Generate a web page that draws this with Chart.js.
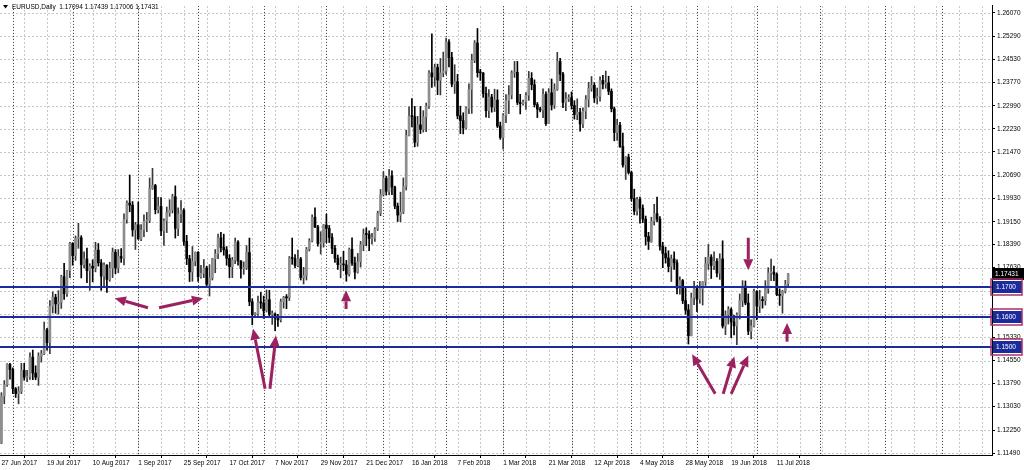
<!DOCTYPE html>
<html>
<head>
<meta charset="utf-8">
<script src="https://cdn.jsdelivr.net/npm/chart.js@4.4.1/dist/chart.umd.min.js"></script>
<style>
html,body{margin:0;padding:0;background:#fff;}
canvas{display:block;}
</style>
</head>
<body>
<canvas id="c" width="1024" height="470"></canvas>
<script>
// ---- calendar (daily bars) ----
const firstDay = '2017-06-27';
const slotCount = 348;                 // bars + empty right margin
const skipDays = ['2017-12-25', '2018-01-01'];
const sundayBars = ['2017-10-29', '2018-03-11', '2018-03-18'];
const symbolTitle = 'EURUSD,Daily';

// ---- OHLC series ----
const opens = [
  1.1182,1.1338,1.1375,1.1443,1.1426,1.1362,1.1346,1.1353,1.1423,1.1400,1.1401,1.1467,1.1414,1.1400,1.1469,1.1478,1.1557,1.1515,1.1635,1.1665,1.1643,1.1648,1.1733,1.1677,1.1753,
  1.1843,1.1803,1.1860,1.1862,1.1773,1.1792,1.1753,1.1768,1.1761,1.1821,1.1779,1.1735,1.1771,1.1724,1.1761,1.1814,1.1762,1.1800,1.1794,1.1923,1.1977,1.1970,1.1888,
  1.1905,1.1858,1.1888,1.1917,1.1919,1.2025,1.2035,1.1955,1.1966,1.1885,1.1918,1.1945,1.1954,1.1998,1.1893,1.1941,1.1953,1.1850,1.1793,1.1749,1.1784,
  1.1814,1.1733,1.1744,1.1762,1.1708,1.1729,1.1792,1.1809,1.1862,1.1830,1.1822,1.1794,1.1766,1.1788,1.1848,1.1785,1.1760,1.1762,1.1813,1.1650,1.1607,1.1611,1.1649,
  1.1646,1.1620,1.1657,1.1608,1.1609,1.1596,1.1590,1.1650,1.1665,1.1663,1.1794,1.1793,1.1770,1.1792,1.1730,1.1737,1.1824,1.1852,1.1930,1.1898,1.1843,1.1845,
  1.1904,1.1893,1.1863,1.1827,1.1794,1.1773,1.1775,1.1772,1.1741,1.1824,1.1778,1.1748,1.1783,1.1839,1.1874,1.1873,1.1859,1.1861,1.1891,1.1943,
  1.2005,1.2059,1.2016,1.2067,1.2030,1.1967,1.1937,1.1947,1.2032,1.2201,1.2265,1.2263,1.2178,1.2236,1.2221,1.2262,1.2298,1.2408,1.2395,1.2426,1.2384,1.2408,
  1.2414,1.2510,1.2459,1.2371,1.2379,1.2266,1.2250,1.2226,1.2290,1.2353,1.2450,1.2507,1.2409,1.2408,1.2340,1.2283,1.2328,1.2295,1.2318,1.2232,
  1.2194,1.2267,1.2317,1.2335,1.2408,1.2410,1.2310,1.2306,1.2312,1.2334,1.2390,1.2369,1.2303,1.2288,1.2285,1.2337,1.2240,1.2342,1.2302,1.2353,1.2446,1.2404,1.2310,1.2322,
  1.2326,1.2300,1.2270,1.2277,1.2239,1.2281,1.2320,1.2357,1.2367,1.2325,1.2330,1.2383,1.2371,1.2375,1.2347,1.2289,1.2211,1.2235,1.2164,1.2103,1.2129,
  1.2078,1.1992,1.1950,1.1989,1.1960,1.1924,1.1866,1.1850,1.1917,1.1942,1.1924,1.1834,1.1810,1.1795,1.1767,1.1792,1.1779,1.1695,1.1720,1.1654,1.1623,1.1538,1.1663,
  1.1693,1.1659,1.1694,1.1716,1.1776,1.1798,1.1770,1.1784,1.1745,1.1792,1.1570,1.1607,1.1624,1.1583,1.1570,1.1607,1.1653,1.1702,1.1646,1.1553,1.1570,
  1.1684,1.1636,1.1655,1.1654,1.1693,1.1746,1.1748,1.1741,1.1674,1.1671,1.1685,1.17094
];
const highs = [
  1.1349,1.1389,1.1445,1.1446,1.1431,1.1366,1.1369,1.1446,1.1446,1.1423,1.1481,1.1490,1.1438,1.1481,1.1489,1.1583,1.1562,1.1654,1.1683,1.1675,1.1687,1.1738,1.1777,1.1754,1.1847,
  1.1846,1.1868,1.1910,1.1869,1.1815,1.1828,1.1776,1.1789,1.1847,1.1843,1.1790,1.1779,1.1773,1.1781,1.1828,1.1823,1.1823,1.1826,1.1941,1.1984,1.2070,1.1982,1.1913,
  1.1980,1.1906,1.1938,1.1946,1.2060,1.2092,1.2039,1.1996,1.1995,1.1925,1.1964,1.1988,1.2006,1.2034,1.1961,1.1985,1.1959,1.1870,1.1804,1.1833,1.1815,
  1.1816,1.1771,1.1790,1.1768,1.1773,1.1794,1.1823,1.1874,1.1880,1.1874,1.1833,1.1806,1.1797,1.1861,1.1853,1.1786,1.1782,1.1836,1.1861,1.1660,1.1614,1.1669,1.1681,
  1.1669,1.1689,1.1688,1.1620,1.1613,1.1608,1.1659,1.1668,1.1674,1.1800,1.1861,1.1806,1.1821,1.1797,1.1764,1.1830,1.1859,1.1938,1.1961,1.1903,1.1882,1.1906,
  1.1940,1.1903,1.1876,1.1837,1.1805,1.1798,1.1817,1.1787,1.1828,1.1862,1.1798,1.1810,1.1850,1.1891,1.1895,1.1885,1.1877,1.1896,1.1950,1.2022,
  1.2081,1.2066,1.2089,1.2084,1.2033,1.1977,1.2013,1.2060,1.2218,1.2296,1.2323,1.2297,1.2264,1.2297,1.2283,1.2308,1.2416,1.2537,1.2437,1.2437,1.2456,1.2477,
  1.2523,1.2518,1.2476,1.2435,1.2403,1.2298,1.2276,1.2296,1.2372,1.2470,1.2515,1.2555,1.2420,1.2409,1.2361,1.2353,1.2337,1.2354,1.2352,1.2245,
  1.2273,1.2336,1.2366,1.2415,1.2446,1.2446,1.2337,1.2318,1.2343,1.2413,1.2409,1.2385,1.2310,1.2294,1.2355,1.2345,1.2356,1.2388,1.2372,1.2476,1.2456,1.2410,1.2343,1.2336,
  1.2345,1.2316,1.2322,1.2291,1.2292,1.2333,1.2377,1.2396,1.2376,1.2358,1.2395,1.2400,1.2414,1.2397,1.2355,1.2295,1.2254,1.2244,1.2209,1.2131,1.2139,
  1.2083,1.2023,1.1996,1.1997,1.1971,1.1934,1.1880,1.1930,1.1973,1.1997,1.1932,1.1847,1.1831,1.1819,1.1805,1.1815,1.1789,1.1733,1.1724,1.1700,1.1641,1.1679,1.1718,
  1.1703,1.1717,1.1717,1.1797,1.1840,1.1806,1.1815,1.1793,1.1809,1.1852,1.1620,1.1634,1.1630,1.1605,1.1613,1.1676,1.1720,1.1719,1.1676,1.1590,1.1692,
  1.1687,1.1688,1.1667,1.1720,1.1763,1.1791,1.1768,1.1746,1.1693,1.1688,1.1721,1.17439
];
const lows = [
  1.1180,1.1312,1.1370,1.1394,1.1346,1.1333,1.1312,1.1346,1.1390,1.1385,1.1393,1.1392,1.1392,1.1373,1.1450,1.1475,1.1490,1.1478,1.1613,1.1612,1.1609,1.1628,1.1658,1.1668,1.1730,
  1.1771,1.1787,1.1827,1.1729,1.1762,1.1713,1.1688,1.1716,1.1749,1.1768,1.1688,1.1703,1.1681,1.1718,1.1730,1.1743,1.1746,1.1780,1.1772,1.1910,1.1948,1.1867,1.1823,
  1.1857,1.1852,1.1866,1.1882,1.1912,1.2022,1.1941,1.1944,1.1869,1.1837,1.1879,1.1933,1.1944,1.1861,1.1869,1.1912,1.1837,1.1773,1.1717,1.1718,1.1769,
  1.1717,1.1728,1.1730,1.1697,1.1669,1.1722,1.1746,1.1793,1.1815,1.1804,1.1771,1.1730,1.1730,1.1776,1.1771,1.1728,1.1741,1.1757,1.1637,1.1574,1.1601,1.1605,1.1628,
  1.1595,1.1616,1.1603,1.1575,1.1554,1.1568,1.1583,1.1629,1.1627,1.1654,1.1774,1.1762,1.1766,1.1722,1.1709,1.1722,1.1818,1.1848,1.1895,1.1834,1.1808,1.1831,
  1.1846,1.1846,1.1809,1.1780,1.1757,1.1729,1.1753,1.1718,1.1735,1.1770,1.1726,1.1745,1.1765,1.1819,1.1836,1.1819,1.1841,1.1850,1.1886,1.1935,
  1.2000,1.2003,1.2005,1.2005,1.1958,1.1916,1.1915,1.1942,1.2020,1.2199,1.2229,1.2163,1.2165,1.2207,1.2212,1.2213,1.2290,1.2360,1.2364,1.2336,1.2335,1.2395,
  1.2403,1.2428,1.2362,1.2340,1.2256,1.2207,1.2206,1.2222,1.2273,1.2274,1.2442,1.2394,1.2383,1.2327,1.2261,1.2260,1.2278,1.2280,1.2227,1.2188,
  1.2155,1.2243,1.2273,1.2322,1.2393,1.2303,1.2272,1.2301,1.2287,1.2317,1.2352,1.2295,1.2260,1.2279,1.2260,1.2234,1.2240,1.2285,1.2290,1.2350,1.2382,1.2293,1.2283,1.2313,
  1.2288,1.2255,1.2253,1.2215,1.2227,1.2256,1.2295,1.2347,1.2310,1.2305,1.2314,1.2355,1.2357,1.2336,1.2279,1.2183,1.2184,1.2161,1.2096,1.2055,1.2073,
  1.1984,1.1938,1.1937,1.1910,1.1912,1.1838,1.1823,1.1847,1.1904,1.1915,1.1821,1.1763,1.1778,1.1749,1.1717,1.1757,1.1676,1.1675,1.1644,1.1609,1.1510,1.1537,1.1640,
  1.1617,1.1645,1.1639,1.1704,1.1757,1.1727,1.1756,1.1732,1.1724,1.1563,1.1541,1.1576,1.1531,1.1540,1.1508,1.1593,1.1634,1.1640,1.1541,1.1527,1.1567,
  1.1591,1.1614,1.1629,1.1639,1.1678,1.1720,1.1720,1.1670,1.1638,1.1612,1.1679,1.17006
];
const closes = [
  1.1338,1.1375,1.1443,1.1426,1.1362,1.1346,1.1353,1.1423,1.1400,1.1401,1.1467,1.1414,1.1400,1.1469,1.1478,1.1557,1.1515,1.1635,1.1665,1.1643,1.1648,1.1733,1.1677,1.1753,1.1843,
  1.1803,1.1860,1.1862,1.1773,1.1792,1.1753,1.1768,1.1761,1.1821,1.1779,1.1735,1.1771,1.1724,1.1761,1.1814,1.1762,1.1800,1.1794,1.1923,1.1977,1.1970,1.1888,1.1905,
  1.1858,1.1888,1.1917,1.1919,1.2025,1.2035,1.1955,1.1966,1.1885,1.1918,1.1945,1.1954,1.1998,1.1893,1.1941,1.1953,1.1850,1.1793,1.1749,1.1784,1.1814,
  1.1733,1.1744,1.1762,1.1708,1.1729,1.1792,1.1809,1.1862,1.1830,1.1822,1.1794,1.1766,1.1788,1.1848,1.1785,1.1760,1.1762,1.1813,1.1650,1.1607,1.1611,1.1649,1.1646,
  1.1620,1.1657,1.1608,1.1609,1.1596,1.1590,1.1650,1.1665,1.1663,1.1794,1.1793,1.1770,1.1792,1.1730,1.1737,1.1824,1.1852,1.1930,1.1898,1.1843,1.1845,1.1904,
  1.1893,1.1863,1.1827,1.1794,1.1773,1.1775,1.1772,1.1741,1.1824,1.1778,1.1748,1.1783,1.1839,1.1874,1.1873,1.1859,1.1861,1.1891,1.1943,1.2005,
  1.2059,1.2016,1.2067,1.2030,1.1967,1.1937,1.1947,1.2032,1.2201,1.2265,1.2263,1.2178,1.2236,1.2221,1.2262,1.2298,1.2408,1.2395,1.2426,1.2384,1.2408,1.2414,
  1.2510,1.2459,1.2371,1.2379,1.2266,1.2250,1.2226,1.2290,1.2353,1.2450,1.2507,1.2409,1.2408,1.2340,1.2283,1.2328,1.2295,1.2318,1.2232,1.2194,
  1.2267,1.2317,1.2335,1.2408,1.2410,1.2310,1.2306,1.2312,1.2334,1.2390,1.2369,1.2303,1.2288,1.2285,1.2337,1.2240,1.2342,1.2302,1.2353,1.2446,1.2404,1.2310,1.2322,1.2326,
  1.2300,1.2270,1.2277,1.2239,1.2281,1.2320,1.2357,1.2367,1.2325,1.2330,1.2383,1.2371,1.2375,1.2347,1.2289,1.2211,1.2235,1.2164,1.2103,1.2129,1.2078,
  1.1992,1.1950,1.1989,1.1960,1.1924,1.1866,1.1850,1.1917,1.1942,1.1924,1.1834,1.1810,1.1795,1.1767,1.1792,1.1779,1.1695,1.1720,1.1654,1.1623,1.1538,1.1663,1.1693,
  1.1659,1.1694,1.1716,1.1776,1.1798,1.1770,1.1784,1.1745,1.1792,1.1570,1.1607,1.1624,1.1583,1.1570,1.1607,1.1653,1.1702,1.1646,1.1553,1.1570,1.1684,
  1.1636,1.1655,1.1654,1.1693,1.1746,1.1748,1.1741,1.1674,1.1671,1.1685,1.1709,1.17431
];

// ---- axes ----
const yTicks = [1.26070,1.25290,1.24530,1.23770,1.22990,1.22230,1.21470,1.20690,1.19930,1.19150,
                1.18390,1.17630,1.16850,1.16090,1.15330,1.14550,1.13790,1.13030,1.12250,1.11490];
const yMin = 1.11425, yMax = 1.26299;
const labelEvery = 16, gridEvery = 8;

// ---- drawn objects ----
const levels = [1.1700, 1.1600, 1.1500];
const arrows = [ // [fromIndex, fromPrice, toIndex, toPrice]
  [51.4, 1.1630, 39.8, 1.1662],
  [55.3, 1.1630, 70.7, 1.1662],
  [92.5, 1.1362, 88.3, 1.1561],
  [94.2, 1.1362, 96.3, 1.1538],
  [120.9, 1.1626, 120.9, 1.1688],
  [250.4, 1.1345, 242.3, 1.1476],
  [253.2, 1.1345, 257.1, 1.1469],
  [256.0, 1.1345, 262.0, 1.1472],
  [262.0, 1.1862, 262.0, 1.1754],
  [275.6, 1.1518, 275.6, 1.1580]
];

// ---- build categories ----
const MONTHS = ['Jan','Feb','Mar','Apr','May','Jun','Jul','Aug','Sep','Oct','Nov','Dec'];
const iso = d => d.toISOString().slice(0,10);
const dates = [];
{
  const d = new Date(firstDay + 'T00:00:00Z');
  while (dates.length < slotCount) {
    const s = iso(d), wd = d.getUTCDay();
    if ((wd >= 1 && wd <= 5 && !skipDays.includes(s)) || sundayBars.includes(s)) dates.push(new Date(d));
    d.setUTCDate(d.getUTCDate() + 1);
  }
}
const labels = dates.map(d => d.getUTCDate() + ' ' + MONTHS[d.getUTCMonth()] + ' ' + d.getUTCFullYear());
const monthStarts = [];
dates.forEach((d, i) => { if (i > 0 && d.getUTCMonth() !== dates[i-1].getUTCMonth()) monthStarts.push(i); });

const nBars = closes.length;
const wickData = labels.map((_, i) => i < nBars ? [lows[i], highs[i]] : null);
const bodyData = labels.map((_, i) => i < nBars ? [opens[i], closes[i]] : null);
const isBull = i => closes[i] >= opens[i];
const bodyColors = labels.map((_, i) => i < nBars && isBull(i) ? '#8d8d8d' : '#000');
const wickColors = labels.map((_, i) => i < nBars && isBull(i) ? '#3a3a3a' : '#000');

const FONT = 'Liberation Sans';
const BLUE = '#1b2a9c';
const ARROW = '#9c2160';

const overlay = {
  id: 'mt4overlay',
  beforeDraw(chart) {
    const c = chart.ctx; c.save(); c.fillStyle = '#fff'; c.fillRect(0, 0, chart.width, chart.height); c.restore();
  },
  beforeDatasetsDraw(chart) {
    const {ctx, chartArea: a, scales: {x, y}} = chart;
    ctx.save();
    ctx.beginPath(); ctx.rect(a.left, a.top, a.right - a.left, a.bottom - a.top); ctx.clip();
    ctx.lineWidth = 1;
    ctx.strokeStyle = '#c6c6c6'; ctx.setLineDash([2, 2]);
    for (let i = gridEvery; i < slotCount; i += gridEvery) {
      const px = Math.round(x.getPixelForValue(i)) + 0.5;
      ctx.beginPath(); ctx.moveTo(px, a.top); ctx.lineTo(px, a.bottom); ctx.stroke();
    }
    yTicks.forEach(v => {
      const py = Math.round(y.getPixelForValue(v)) + 0.5;
      ctx.beginPath(); ctx.moveTo(a.left, py); ctx.lineTo(a.right, py); ctx.stroke();
    });
    ctx.strokeStyle = '#333'; ctx.setLineDash([1, 2]);
    monthStarts.forEach(i => {
      const px = Math.round(x.getPixelForValue(i)) + 0.5;
      ctx.beginPath(); ctx.moveTo(px, a.top); ctx.lineTo(px, a.bottom); ctx.stroke();
    });
    ctx.restore();
  },
  afterDatasetsDraw(chart) {
    const {ctx, chartArea: a, scales: {x, y}} = chart;
    ctx.save();
    ctx.beginPath(); ctx.rect(a.left, a.top, a.right - a.left, a.bottom - a.top); ctx.clip();
    ctx.strokeStyle = BLUE; ctx.lineWidth = 2;
    levels.forEach(lv => {
      const py = Math.round(y.getPixelForValue(lv));
      ctx.beginPath(); ctx.moveTo(a.left, py); ctx.lineTo(a.right, py); ctx.stroke();
    });
    ctx.fillStyle = ARROW; ctx.strokeStyle = ARROW;
    arrows.forEach(([i1, p1, i2, p2]) => {
      const x1 = x.getPixelForValue(i1), y1 = y.getPixelForValue(p1);
      const x2 = x.getPixelForValue(i2), y2 = y.getPixelForValue(p2);
      const ang = Math.atan2(y2 - y1, x2 - x1), head = 11, hw = 5;
      const bx = x2 - head * Math.cos(ang), by = y2 - head * Math.sin(ang);
      ctx.lineWidth = 3;
      ctx.beginPath(); ctx.moveTo(x1, y1); ctx.lineTo(bx, by); ctx.stroke();
      ctx.beginPath(); ctx.moveTo(x2, y2);
      ctx.lineTo(bx - hw * Math.sin(ang), by + hw * Math.cos(ang));
      ctx.lineTo(bx + hw * Math.sin(ang), by - hw * Math.cos(ang));
      ctx.closePath(); ctx.fill();
    });
    ctx.restore();
  },
  afterDraw(chart) {
    const {ctx, chartArea: a, scales: {y}} = chart;
    ctx.save();
    ctx.font = '6.5px "' + FONT + '"';
    ctx.textBaseline = 'middle'; ctx.textAlign = 'left';
    // current price
    const last = nBars - 1;
    let py = Math.round(y.getPixelForValue(closes[last]));
    ctx.fillStyle = '#000'; ctx.fillRect(a.right + 1, py - 6, 31, 12);
    ctx.fillStyle = '#fff'; ctx.fillText(closes[last].toFixed(5), a.right + 3, py + 0.5);
    // level labels
    levels.forEach(lv => {
      const p = Math.round(y.getPixelForValue(lv));
      ctx.fillStyle = BLUE; ctx.fillRect(a.right + 1, p - 6, 29, 12);
      ctx.fillStyle = '#fff'; ctx.fillText(lv.toFixed(4), a.right + 4, p + 0.5);
      ctx.strokeStyle = '#a8306a'; ctx.lineWidth = 1.5;
      ctx.strokeRect(a.right - 1, p - 8, 31, 16);
    });
    // header
    ctx.fillStyle = '#000';
    ctx.beginPath(); ctx.moveTo(3, 5); ctx.lineTo(8, 5); ctx.lineTo(5.5, 8.5); ctx.closePath(); ctx.fill();
    const hdr = symbolTitle + '  ' + [opens[last], highs[last], lows[last], closes[last]].map(v => v.toFixed(5)).join(' ');
    ctx.fillText(hdr, 12, 7);
    ctx.restore();
  }
};

new Chart(document.getElementById('c'), {
  type: 'bar',
  data: {
    labels,
    datasets: [
      { label: 'body', data: bodyData, backgroundColor: bodyColors, barThickness: 2, grouped: false, minBarLength: 1, order: 1 },
      { label: 'wick', data: wickData, backgroundColor: wickColors, barThickness: 1, grouped: false, order: 2 }
    ]
  },
  options: {
    responsive: false,
    devicePixelRatio: 1,
    animation: false,
    events: [],
    layout: { padding: 0 },
    plugins: { legend: { display: false }, tooltip: { enabled: false } },
    scales: {
      x: {
        type: 'category',
        offset: true,
        grid: { drawOnChartArea: false, drawTicks: true, tickLength: 3, color: '#000' },
        border: { display: true, color: '#000', width: 1 },
        ticks: {
          autoSkip: false, maxRotation: 0, minRotation: 0, align: 'start', padding: 1,
          color: '#000', font: { family: FONT, size: 6.5 },
          callback(value, index) { return (index % labelEvery === 0 && index < nBars) ? labels[index] : null; }
        },
        afterFit(scale) { scale.height = 15; }
      },
      y: {
        type: 'linear', position: 'right', min: yMin, max: yMax,
        grid: { drawOnChartArea: false, drawTicks: true, tickLength: 3, color: '#000' },
        border: { display: true, color: '#000', width: 1 },
        ticks: { color: '#000', padding: 2, font: { family: FONT, size: 6.5 }, callback: v => v.toFixed(5) },
        afterBuildTicks(scale) { scale.ticks = yTicks.map(v => ({ value: v })); },
        afterFit(scale) { scale.width = 32; }
      }
    }
  },
  plugins: [overlay]
});
</script>
</body>
</html>
